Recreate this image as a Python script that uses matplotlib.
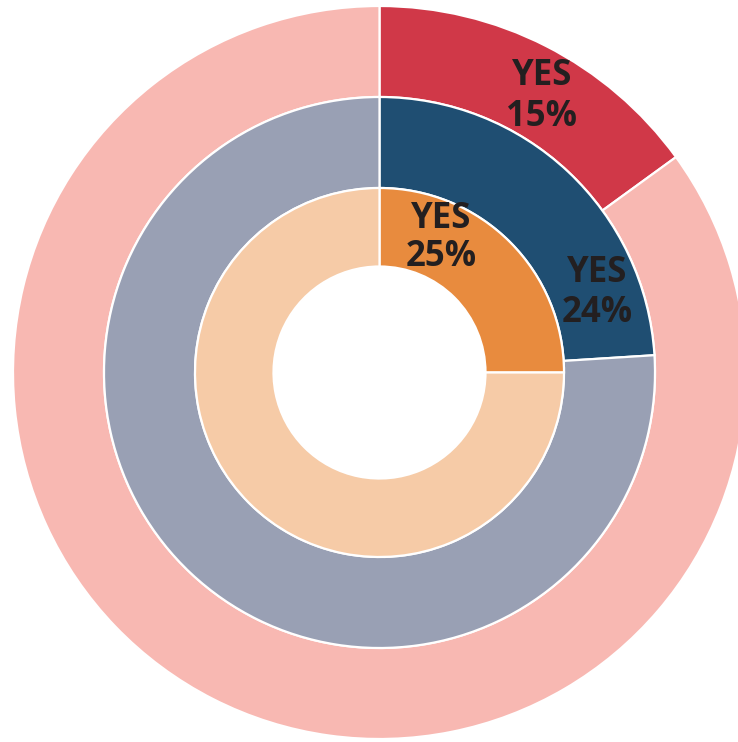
import matplotlib.pyplot as plt

# share of "YES" answers per ring (outer -> inner)
outer_vals = [15, 85]
middle_vals = [24, 76]
inner_vals = [25, 75]

outer_colors = ["#D03848", "#F8B8B2"]
middle_colors = ["#1F4E72", "#99A0B4"]
inner_colors = ["#E88B3E", "#F6CBA7"]

W, H = 738, 742
cx, cy = 379.5, H - 372.5

fig = plt.figure(figsize=(W / 100, H / 100), dpi=100)
ax = fig.add_axes([0, 0, 1, 1])
ax.set_xlim(0, W)
ax.set_ylim(0, H)
ax.set_aspect("equal")
ax.axis("off")

rings = [
    (outer_vals, outer_colors, 366.5, 275.5),
    (middle_vals, middle_colors, 275.5, 184.5),
    (inner_vals, inner_colors, 184.5, 106),
]
for vals, cols, r_out, r_in in rings:
    ax.pie(vals, colors=cols, radius=r_out, center=(cx, cy),
           startangle=90, counterclock=False,
           wedgeprops=dict(width=r_out - r_in, edgecolor="white", linewidth=1.6),
           frame=True)

ax.set_xlim(0, W)
ax.set_ylim(0, H)
ax.axis("off")

# labels: (x, first baseline, second baseline) in pixels from top
labels = [
    (542, 85, 126, outer_vals[0]),
    (597, 282, 322, middle_vals[0]),
    (441, 228, 266, inner_vals[0]),
]
txt = dict(ha="center", va="baseline", fontsize=25, fontweight="bold",
           color="#231F20", family="Open Sans")
for x, y1, y2, v in labels:
    ax.text(x, H - y1, "YES", **txt)
    ax.text(x, H - y2, f"{v}%", **txt)

fig.savefig("out.png", dpi=100)
